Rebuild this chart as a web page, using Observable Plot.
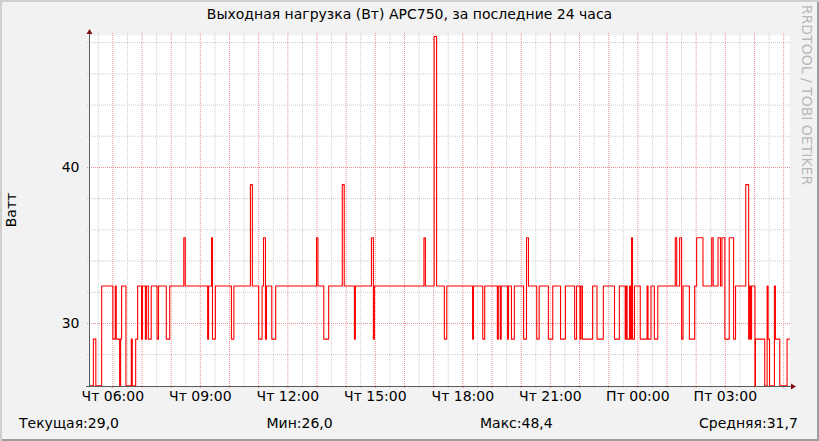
<!DOCTYPE html>
<html><head><meta charset="utf-8">
<script src="https://cdn.jsdelivr.net/npm/d3@7"></script>
<script src="https://cdn.jsdelivr.net/npm/@observablehq/plot@0.6"></script>
<style>
html,body{margin:0;padding:0;background:#f2f2f2;}
#chart{position:relative;width:819px;height:441px;background:#f2f2f2;font-family:"DejaVu Sans",sans-serif;color:#000;overflow:hidden;}
#chart svg{position:absolute;left:0;top:0;}
.shade{position:absolute;left:0;top:0;width:819px;height:441px;box-shadow:inset 2px 2px 0 #cfcfcf, inset -2px -2px 0 #9e9e9e;pointer-events:none;}
.lbl{position:absolute;font-size:14px;line-height:14px;white-space:nowrap;}
</style></head><body><div id="chart"></div>
<script>
// ---- data ----
const startTime = "2024-01-04T05:12:00Z"; // Thursday, window start
const windowMinutes = 1440;
const minutes = [0,8,13,25,48,53,55,62,64,66,75,86,88,95,99,107,109,115,117,121,127,139,142,158,165,194,197,243,245,251,253,259,292,297,331,335,348,355,358,362,364,375,383,467,470,482,492,520,524,545,547,580,584,586,688,691,709,714,730,735,788,790,809,813,839,841,845,847,860,862,868,874,893,899,903,920,925,944,953,969,979,998,1002,1009,1011,1014,1035,1044,1057,1080,1090,1102,1104,1106,1111,1113,1115,1117,1121,1133,1147,1149,1155,1162,1169,1205,1208,1214,1218,1221,1234,1245,1249,1262,1280,1283,1293,1298,1301,1307,1316,1325,1329,1350,1356,1358,1360,1362,1369,1370,1389,1394,1396,1399,1409,1411,1420,1435,1440];
const watts = [26,29,26,32.4,29,32.4,29,26,29,32.4,26,29,26,29,32.4,29,32.4,29,32.4,29,32.4,29,32.4,29,32.4,35.5,32.4,29,32.4,35.5,29,32.4,29,32.4,38.9,32.4,29,32.4,35.5,29,32.4,29,32.4,35.5,32.4,29,32.4,38.9,32.4,29,32.4,35.5,29,32.4,35.5,32.4,48.4,32.4,29,32.4,29,32.4,29,32.4,29,32.4,29,32.4,29,32.4,29,32.4,29,35.5,32.4,29,32.4,29,32.4,29,32.4,29,32.4,29,32.4,29,32.4,29,32.4,29,32.4,29,32.4,29,32.4,29,35.5,29,32.4,29,32.4,29,32.4,29,32.4,35.5,32.4,35.5,29,32.4,29,32.4,35.5,32.4,35.5,32.4,35.5,32.4,35.5,29,35.5,29,32.4,38.9,29,32.4,29,32.4,26,29,26,32.4,29,26,32.4,29,26,29,29];
const yTicks = [30, 40];
const yDomain = [25.96, 48.46];
const dayNames = ["Вс","Пн","Вт","Ср","Чт","Пт","Сб"];
const titleText = "Выходная нагрузка (Вт) APC750, за последние 24 часа";
const yLabel = "Ватт";
const watermark = "RRDTOOL / TOBI OETIKER";
const statLabels = ["Текущая","Мин","Макс","Средняя"];
const statValues = ["29,0","26,0","48,4","31,7"];

// ---- build ----
const t0 = new Date(startTime);
const tEnd = new Date(+t0 + windowMinutes * 60000);
const data = minutes.map((m, i) => ({t: new Date(+t0 + m * 60000), v: watts[i]}));
const halfHours = d3.utcMinute.every(30).range(t0, tEnd);
const minorX = halfHours.filter(d => d.getUTCMinutes() !== 0);
const majorX = halfHours.filter(d => d.getUTCMinutes() === 0);
const labelX = d3.utcHour.every(3).range(t0, tEnd);
const minorY = d3.range(28, 49, 2).filter(v => !yTicks.includes(v));
const fmt = d => dayNames[d.getUTCDay()] + " " + d3.utcFormat("%H:%M")(d);

const plot = Plot.plot({
  width: 819, height: 441,
  marginLeft: 89, marginRight: 30, marginTop: 35, marginBottom: 55,
  style: {background: "transparent", fontFamily: "DejaVu Sans", fontSize: "14px", color: "#000"},
  x: {type: "utc", domain: [t0, tEnd], ticks: labelX, tickFormat: fmt, tickSize: 0, tickPadding: 5, label: null},
  y: {domain: yDomain, ticks: yTicks, tickSize: 0, tickPadding: 10, label: null},
  marks: [
    Plot.frame({fill: "white", stroke: "none"}),
    Plot.ruleX(minorX, {stroke: "#cccccc", strokeDasharray: "1,1", insetBottom: -2, insetTop: -2}),
    Plot.ruleY(minorY, {stroke: "#cccccc", strokeDasharray: "1,1", insetLeft: -2, insetRight: -1}),
    Plot.ruleX(majorX, {stroke: "#ec8f8f", strokeDasharray: "1,1", insetBottom: -2, insetTop: -2}),
    Plot.ruleY(yTicks, {stroke: "#ec8f8f", strokeDasharray: "1,1", insetLeft: -2, insetRight: -1}),
    Plot.line(data, {x: "t", y: "v", curve: "step-after", stroke: "#ff0000", strokeWidth: 1.1}),
    Plot.ruleX([t0], {stroke: "#5c5c5c", insetTop: -4}),
    Plot.ruleY([yDomain[0]], {stroke: "#5c5c5c", insetLeft: -3, insetRight: -2})
  ]
});

const chart = document.getElementById("chart");
chart.appendChild(plot);

// arrows at the axis ends, from the scale ranges
const xr = plot.scale("x").range, yr = plot.scale("y").range;
const svgSel = d3.select(plot);
const ax = xr[0] + 0.5, ay = yr[0] + 0.5, yTop = Math.min(...yr), xRight = Math.max(...xr);
svgSel.append("path").attr("fill", "#7f1010")
  .attr("d", `M${ax - 3},${yTop - 1}L${ax + 3},${yTop - 1}L${ax},${yTop - 6}Z`);
svgSel.append("path").attr("fill", "#7f1010")
  .attr("d", `M${xRight + 2},${ay - 3}L${xRight + 2},${ay + 3}L${xRight + 7},${ay}Z`);

function addLabel(text, css) {
  const el = document.createElement("div");
  el.className = "lbl";
  el.textContent = text;
  Object.assign(el.style, css);
  chart.appendChild(el);
  return el;
}
addLabel(titleText, {left: "0px", width: "819px", textAlign: "center", top: "7.2px"});
addLabel(yLabel, {left: "10.5px", top: "210px", transform: "translate(-50%,-50%) rotate(-90deg)"});
addLabel(watermark, {left: "806.7px", top: "95px", color: "#b8b8b8", transform: "translate(-50%,-50%) rotate(90deg)"});
const statLeft = ["19px", "266.5px", "480px", "699px"];
statLabels.forEach((s, i) => addLabel(s + ":" + statValues[i], {left: statLeft[i], top: "415.5px"}));

const shade = document.createElement("div");
shade.className = "shade";
chart.appendChild(shade);
</script></body></html>
